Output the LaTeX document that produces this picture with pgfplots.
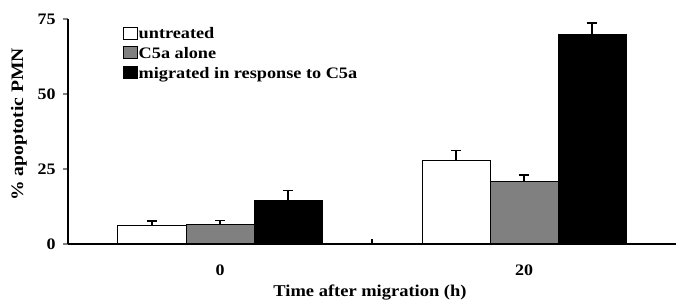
\documentclass[border=0pt]{standalone}
\usepackage{pgfplots}
\pgfplotsset{compat=1.18}
\usepackage{fontspec}
\setmainfont{Liberation Serif}[FakeStretch=1.12]
\newfontfamily\legfont{Liberation Serif}[FakeStretch=1.14]
\definecolor{midgray}{RGB}{128,128,128}
\begin{document}
\begin{tikzpicture}[font=\fontsize{16}{18}\selectfont\bfseries]
\begin{axis}[
  scale only axis,
  width=608pt, height=225pt,
  at={(0,0)}, anchor=south west,
  xmin=0, xmax=2, ymin=0, ymax=75,
  axis x line*=bottom, axis y line*=left,
  axis line style={line width=1.8pt, -},
  ybar=0pt, bar width=68pt,
  xtick={1}, xticklabels={},
  x tick style={draw=black, line width=1.5pt},
  extra x ticks={0.5,1.5}, extra x tick labels={0,20},
  extra x tick style={x tick style={draw=none}},
  ytick={0,25,50,75},
  y tick style={line width=1.5pt, xshift=-5pt},
  tick align=inside, major tick length=5pt,
  /pgf/number format/assume math mode=true,
  tick label style={font=\fontsize{16}{18}\selectfont\bfseries},
  xticklabel style={yshift=-17pt},
  yticklabel style={xshift=-9pt},
  ylabel={\% apoptotic PMN},
  xlabel={Time after migration (h)},
  ylabel style={font=\fontsize{17.5}{20}\selectfont\bfseries, at={(axis description cs:0,0.5)}, anchor=center, yshift=49pt, xshift=7pt},
  xlabel style={font=\fontsize{16.5}{19}\selectfont\bfseries, at={(axis description cs:0.5,0)}, anchor=center, yshift=-49pt, xshift=-2pt},
  legend style={draw=none, fill=none, at={(axis cs:0.18,72.5)}, anchor=north west,
    font=\legfont\fontsize{16}{18}\selectfont\bfseries, inner sep=0pt,
    row sep=5pt, legend cell align=left,
    nodes={inner xsep=1pt, inner ysep=1pt}},
  legend image code/.code={\draw[#1, draw=black, line width=0.8pt] (0pt,-5pt) rectangle (14pt,7pt);},
  error bars/y dir=plus, error bars/y explicit,
  error bars/error mark options={rotate=90, mark size=5pt, line width=1.5pt},
  error bars/error bar style={line width=1.5pt},
]
\addplot[fill=white, draw=black, line width=1pt] coordinates {(0.5,6.0) +- (0,1.7) (1.5,28.0) +- (0,3.1)};
\addplot[fill=midgray, draw=black, line width=1pt] coordinates {(0.5,6.6) +- (0,1.2) (1.5,21.0) +- (0,2.0)};
\addplot[fill=black, draw=black, line width=1pt] coordinates {(0.5,14.6) +- (0,3.3) (1.5,69.7) +- (0,4.0)};
\legend{untreated, C5a alone, migrated in response to C5a}
\end{axis}
\pgfresetboundingbox
\path (-68pt,-58pt) rectangle (609pt,244pt);
\end{tikzpicture}
\end{document}
